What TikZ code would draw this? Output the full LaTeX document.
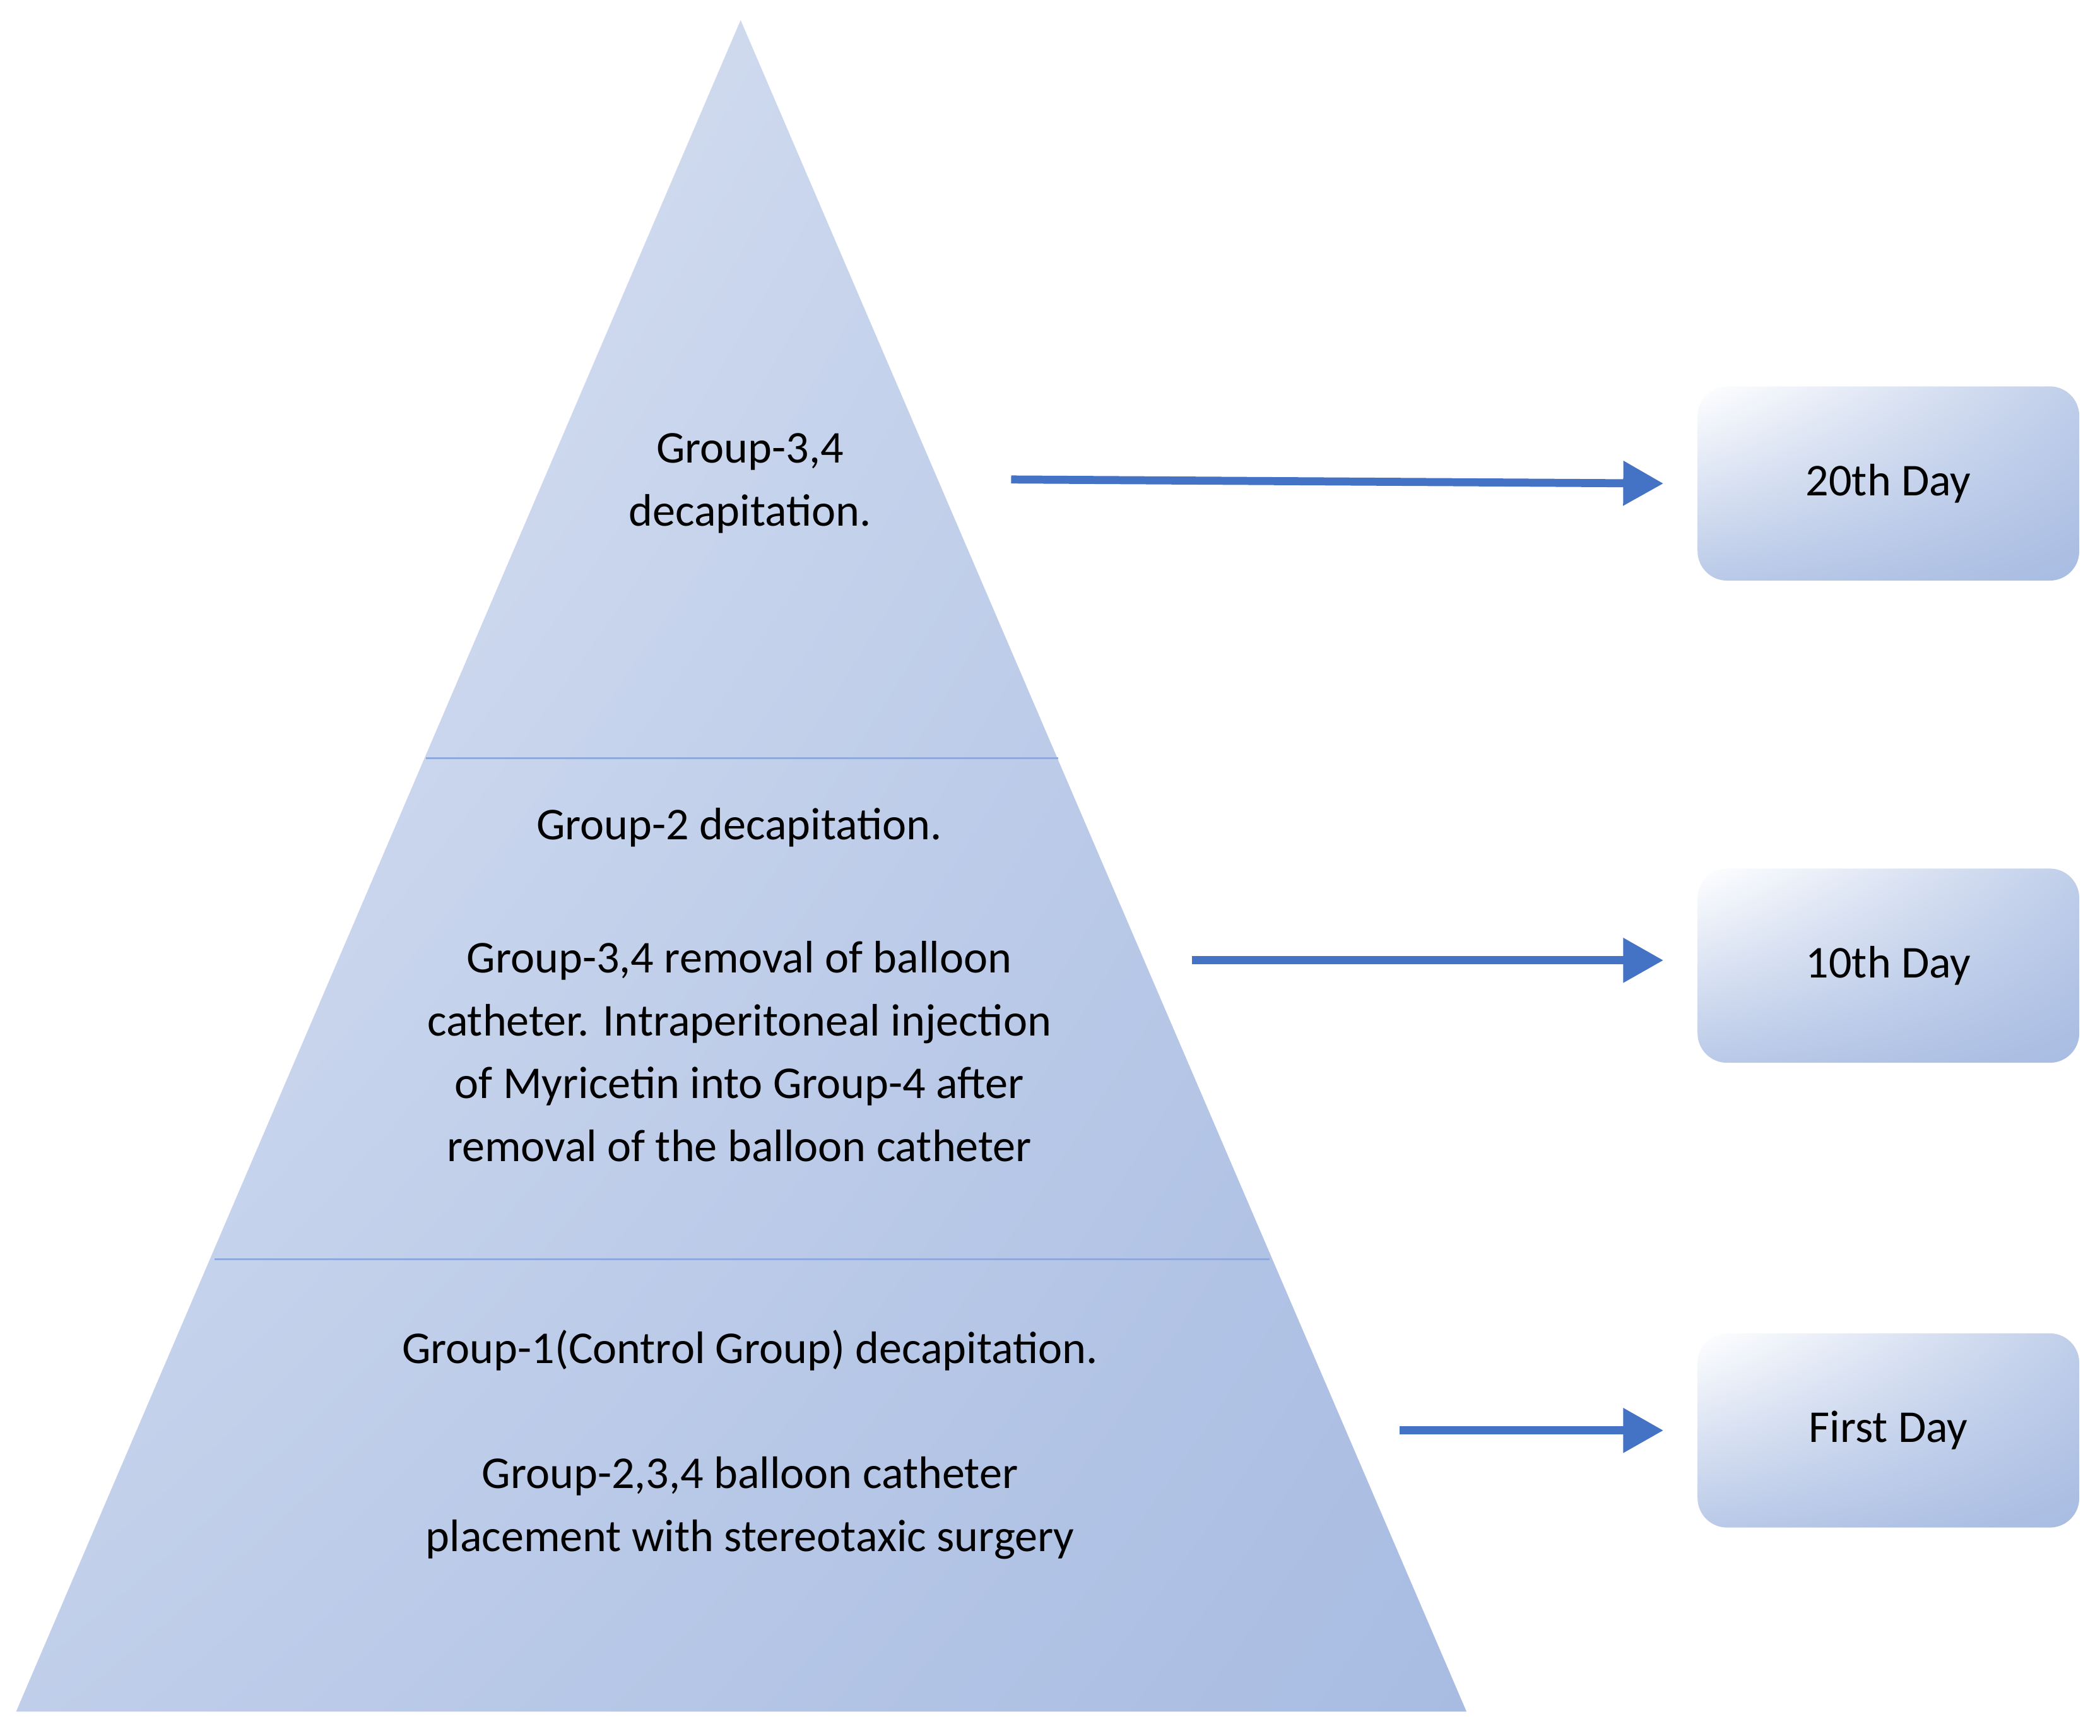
\documentclass[tikz,border=0pt]{standalone}
\usepackage{fontspec}
\setmainfont{Carlito}
\usetikzlibrary{arrows.meta,shapes.geometric,shadings}
\definecolor{lt}{HTML}{E3E9F5}
\definecolor{dk}{HTML}{A8BCE2}
\definecolor{ar}{HTML}{4472C4}
\definecolor{ln}{HTML}{8FA9DA}
\tikzset{
  x=1pt,y=1pt,
  txt/.style={font=\fontsize{34}{47}\selectfont,align=center,text=black},
  day/.style={draw=none,rounded corners=22pt,minimum width=285pt,minimum height=145pt,
    upper left=white,upper right=dk!60!lt,lower left=dk!70!lt,lower right=dk,
    font=\fontsize{34}{40}\selectfont},
  arr/.style={draw=ar,line width=6pt,-{Triangle[length=30pt,width=32pt]}}
}
\begin{document}
\begin{tikzpicture}
\useasboundingbox (0,0) rectangle (1568,1296);
% triangle
\coordinate (A) at (553,1281);
\coordinate (L) at (12,18);
\coordinate (R) at (1095,18);
\shade[upper left=lt,upper right=dk!70!lt,lower left=dk!60!lt,lower right=dk] (A) -- (L) -- (R) -- cycle;
\coordinate (d1l) at (318,730); \coordinate (d1r) at (790,730);
\coordinate (d2l) at (160,356); \coordinate (d2r) at (948,356);
\draw[ln,line width=1.5pt] (d1l) -- (d1r);
\draw[ln,line width=1.5pt] (d2l) -- (d2r);
% texts
\node[txt] (t1) at (560,935) {Group-3,4\\decapitation.};
\node[txt] (t2) at (552,678) {Group-2 decapitation.};
\node[txt] (t3) at (552,511) {Group-3,4 removal of balloon\\catheter. Intraperitoneal injection\\of Myricetin into Group-4 after\\removal of the balloon catheter};
\node[txt] (t4) at (560,288) {Group-1(Control Group) decapitation.};
\node[txt] (t5) at (560,170) {Group-2,3,4 balloon catheter\\placement with stereotaxic surgery};
% boxes
\node[day] (b1) at (1410,935) {20th Day};
\node[day] (b2) at (1410,575) {10th Day};
\node[day] (b3) at (1410,228) {First Day};
% arrows
\coordinate (s1) at (755,938);
\coordinate (s2) at (890,579);
\coordinate (s3) at (1045,228);
\draw[arr] (s1) -- (1242,935);
\draw[arr] (s2) -- (1242,579);
\draw[arr] (s3) -- (1242,228);
\end{tikzpicture}
\end{document}
